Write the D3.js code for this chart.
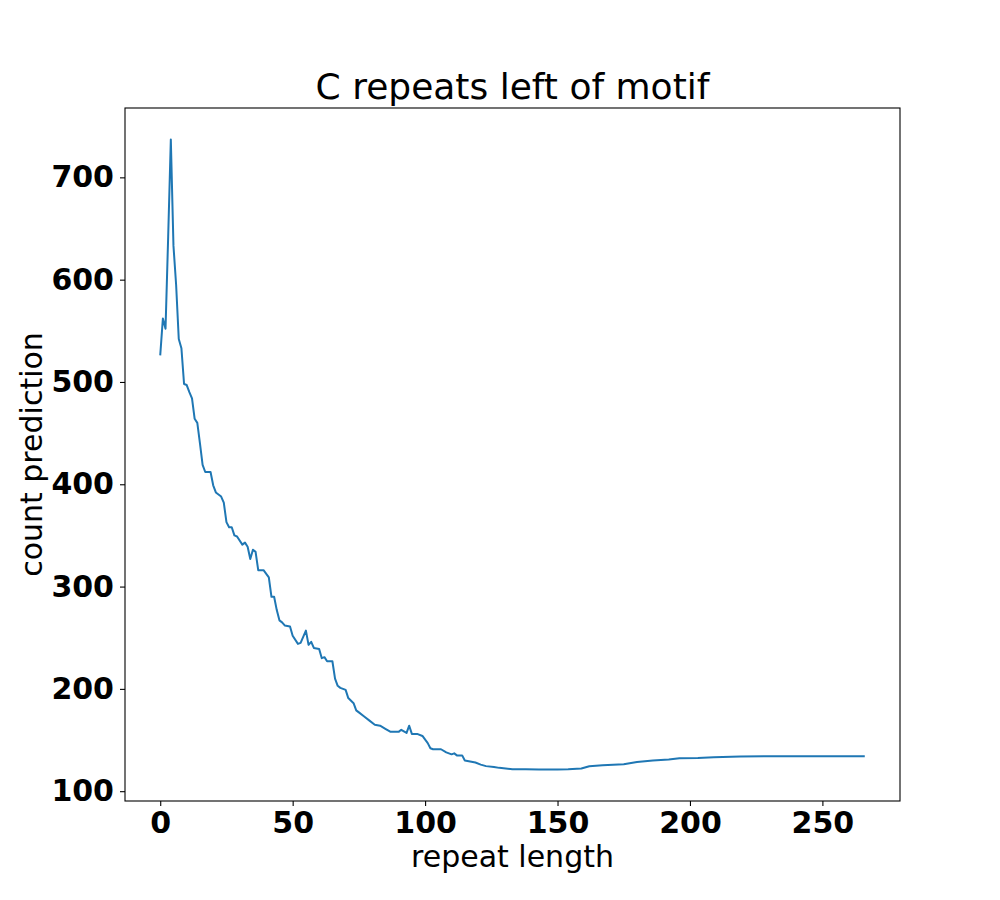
<!DOCTYPE html>
<meta charset="utf-8">
<style>
body { margin: 0; background: #fff; }
.tick text { font: bold 30px "DejaVu Sans", sans-serif; fill: #000; }
.tick line { stroke: #000; stroke-width: 1.1px; }
.domain { display: none; }
.label { font: 30px "DejaVu Sans", sans-serif; fill: #000; }
.title { font: 36px "DejaVu Sans", sans-serif; fill: #000; }
.line { fill: none; stroke: #1f77b4; stroke-width: 2px; stroke-linejoin: round; }
</style>
<body>
<script src="https://cdn.jsdelivr.net/npm/d3@7"></script>
<script>
// repeat length (x) and count prediction (y)
var repeatLen = [0,1,2,3,4,5,6,7,8,9,10,11,12,13,14,15,16,17,19,20,21,23,24,25,26,27,28,29,31,32,33,34,35,36,37,39,41,42,43,44,45,46,47,49,50,52,53,55,56,57,58,60,61,62,63,65,66,67,68,70,71,73,74,75,77,79,81,83,85,87,90,91,93,94,95,97,99,101,102,103,106,108,110,111,112,114,115,117,119,121,123,126,128,133,138,143,150,154,159,162,167,175,180,186,192,196,203,209,219,234,250,266];
var countPred = [526,562,552,642,737,633,595,542,533,498,497,490,484,464,460,440,419,412,412,399,392,388,382,363,358,358,350,349,341,343,339,327,336,334,316,316,309,290,290,277,267,265,262,261,252,244,245,257,243,246,240,239,230,231,227,227,210,203,201,199,191,186,179,177,173,169,165,164,161,158,158,160,157,164,156,156,154,147,142,141,141,138,136,137,135,135,130,129,128,126,124.5,123.7,122.8,121.5,121.5,121.2,121.3,121.5,122.1,124.4,125.4,126.4,128.6,130,131,132.2,132.5,133.2,133.9,134.2,134.2,134.2];
var xTicks = [0, 50, 100, 150, 200, 250];
var yTicks = [100, 200, 300, 400, 500, 600, 700];

var margin = {top: 108, right: 100, bottom: 99, left: 125},
    width = 1000 - margin.left - margin.right,
    height = 900 - margin.top - margin.bottom;

var svg = d3.select("body").append("svg")
    .attr("width", 1000)
    .attr("height", 900);

var g = svg.append("g")
    .attr("transform", "translate(" + margin.left + "," + margin.top + ")");

// matplotlib style 5% margins around the data
var xMin = d3.min(repeatLen), xMax = d3.max(repeatLen),
    yMin = d3.min(countPred), yMax = d3.max(countPred);
var xPad = (xMax - xMin) * 0.05, yPad = (yMax - yMin) * 0.05;

var x = d3.scaleLinear().domain([xMin - xPad, xMax + xPad]).range([0, width]);
var y = d3.scaleLinear().domain([yMin - yPad, yMax + yPad]).range([height, 0]);

g.append("g")
    .attr("transform", "translate(0," + height + ")")
    .call(d3.axisBottom(x).tickValues(xTicks).tickSize(5).tickPadding(6));

g.append("g")
    .call(d3.axisLeft(y).tickValues(yTicks).tickSize(5).tickPadding(6));

var line = d3.line()
    .x(function(d, i) { return x(repeatLen[i]); })
    .y(function(d) { return y(d); });

g.append("path")
    .datum(countPred)
    .attr("class", "line")
    .attr("d", line);

// frame
g.append("rect")
    .attr("width", width)
    .attr("height", height)
    .attr("fill", "none")
    .attr("stroke", "#000")
    .attr("stroke-width", 1.1);

g.append("text")
    .attr("class", "title")
    .attr("x", width / 2)
    .attr("y", -9)
    .attr("text-anchor", "middle")
    .text("C repeats left of motif");

g.append("text")
    .attr("class", "label")
    .attr("x", width / 2)
    .attr("y", height + 66)
    .attr("text-anchor", "middle")
    .text("repeat length");

g.append("text")
    .attr("class", "label")
    .attr("transform", "translate(" + (-83) + "," + (height / 2) + ") rotate(-90)")
    .attr("text-anchor", "middle")
    .text("count prediction");
</script>
</body>
